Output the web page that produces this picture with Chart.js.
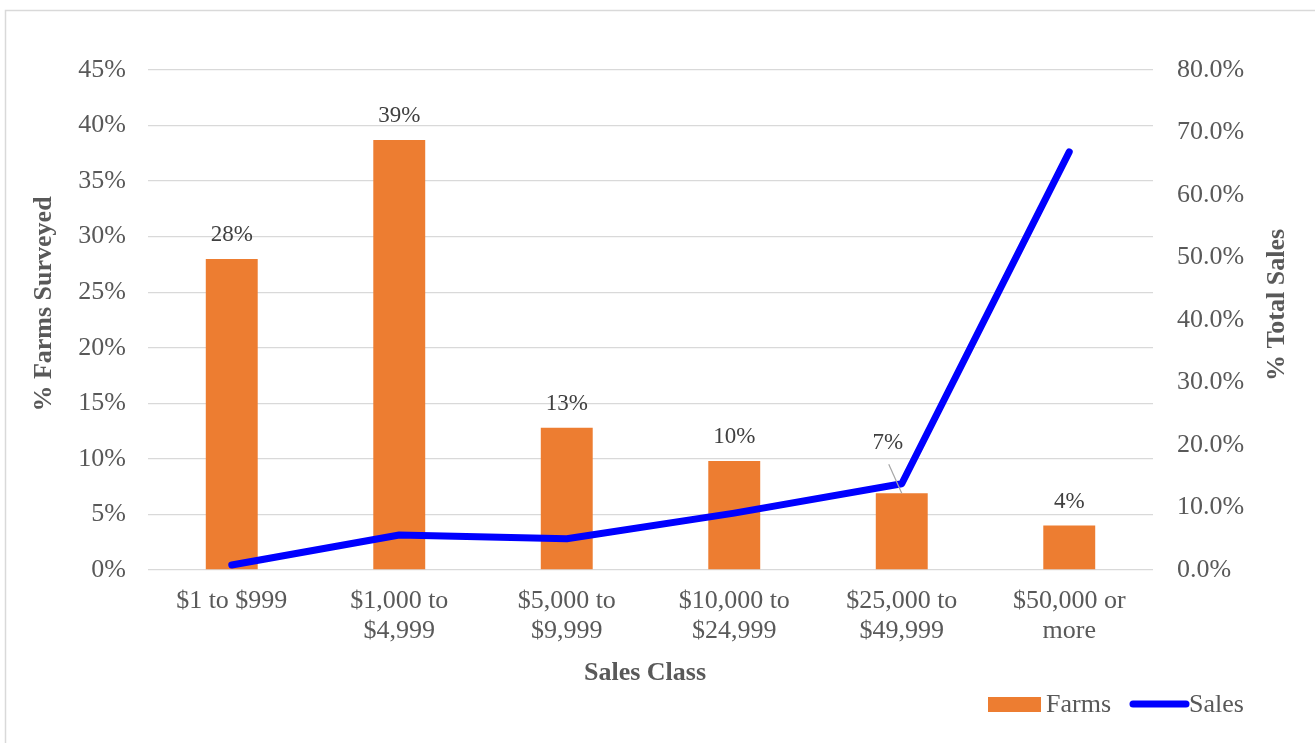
<!DOCTYPE html>
<html>
<head>
<meta charset="utf-8">
<script src="https://cdn.jsdelivr.net/npm/chart.js@4"></script>
<style>
html,body{margin:0;padding:0;background:#fff;}
#wrap{width:1315px;height:743px;position:relative;}
</style>
</head>
<body>
<div id="wrap"><canvas id="c" width="1315" height="743"></canvas></div>
<script>
const categories = [["$1 to $999"], ["$1,000 to", "$4,999"], ["$5,000 to", "$9,999"], ["$10,000 to", "$24,999"], ["$25,000 to", "$49,999"], ["$50,000 or", "more"]];
const farmsPct = [28.0, 38.7, 12.8, 9.8, 6.9, 4.0];
const salesPct = [0.8, 5.6, 5.0, 9.1, 13.8, 66.9];
const leftTicks = [0, 5, 10, 15, 20, 25, 30, 35, 40, 45];
const rightTicks = [0, 10, 20, 30, 40, 50, 60, 70, 80];
const titles = {x: "Sales Class", y: "% Farms Surveyed", y1: "% Total Sales"};

const FONT = "'Liberation Serif', 'Times New Roman', serif";
const TXT = '#595959';
const ORANGE = '#ED7D31';
const BLUE = '#0000FF';
const GRID = '#D9D9D9';

const decor = {
  id: 'decor',
  beforeDraw(chart) {
    const ctx = chart.ctx;
    ctx.save();
    ctx.fillStyle = '#fff';
    ctx.fillRect(0, 0, chart.width, chart.height);
    ctx.strokeStyle = GRID;
    ctx.lineWidth = 1.5;
    ctx.strokeRect(5.5, 10.5, 1330, 760);
    ctx.restore();
  },
  afterDatasetsDraw(chart, args, opts) {
    const ctx = chart.ctx;
    const meta = chart.getDatasetMeta(chart.data.datasets.findIndex(d => d.type === 'bar'));
    const ds = chart.data.datasets[meta.index];
    ctx.save();
    ctx.font = '23px ' + FONT;
    ctx.fillStyle = '#404040';
    ctx.textAlign = 'center';
    ctx.textBaseline = 'middle';
    meta.data.forEach((bar, i) => {
      const txt = Math.round(ds.data[i]) + '%';
      const off = (opts.labelOffsets || {})[i];
      if (off) {
        const lx = bar.x + off.dx, ly = bar.y + off.dy;
        ctx.strokeStyle = '#A6A6A6';
        ctx.lineWidth = 1.2;
        ctx.beginPath();
        ctx.moveTo(lx + 1, ly + 21);
        ctx.lineTo(bar.x, bar.y);
        ctx.stroke();
        ctx.fillText(txt, lx, ly);
      } else {
        ctx.fillText(txt, bar.x, bar.y - 24);
      }
    });
    ctx.restore();
  },
  afterDraw(chart) {
    const ctx = chart.ctx;
    ctx.save();
    ctx.fillStyle = TXT;
    ctx.font = 'bold 26px ' + FONT;
    ctx.textAlign = 'center';
    ctx.textBaseline = 'middle';
    ctx.fillText(titles.x, 645, 673);
    ctx.save();
    ctx.translate(44, 304);
    ctx.rotate(-Math.PI / 2);
    ctx.fillText(titles.y, 0, 0);
    ctx.restore();
    ctx.save();
    ctx.translate(1277, 305);
    ctx.rotate(-Math.PI / 2);
    ctx.fillText(titles.y1, 0, 0);
    ctx.restore();
    // legend
    const bar = chart.data.datasets.find(d => d.type === 'bar');
    const line = chart.data.datasets.find(d => d.type === 'line');
    const ly = 704;
    ctx.font = '26px ' + FONT;
    ctx.textAlign = 'left';
    ctx.fillStyle = ORANGE;
    ctx.fillRect(988, ly - 7, 53, 15);
    ctx.fillStyle = TXT;
    ctx.fillText(bar.label, 1046, ly + 1);
    ctx.strokeStyle = BLUE;
    ctx.lineWidth = 7;
    ctx.lineCap = 'round';
    ctx.beginPath();
    ctx.moveTo(1133, ly);
    ctx.lineTo(1186, ly);
    ctx.stroke();
    ctx.fillText(line.label, 1189, ly + 1);
    ctx.restore();
  }
};

new Chart(document.getElementById('c'), {
  data: {
    labels: categories,
    datasets: [
      {
        type: 'line',
        label: 'Sales',
        data: salesPct,
        yAxisID: 'y1',
        borderColor: BLUE,
        backgroundColor: BLUE,
        borderWidth: 7,
        borderCapStyle: 'round',
        borderJoinStyle: 'round',
        pointRadius: 0,
        tension: 0,
        order: 0
      },
      {
        type: 'bar',
        label: 'Farms',
        data: farmsPct,
        yAxisID: 'y',
        backgroundColor: ORANGE,
        barPercentage: 0.31,
        categoryPercentage: 1.0,
        order: 1
      }
    ]
  },
  options: {
    responsive: false,
    animation: false,
    layout: {padding: {left: 0, right: 0, top: 70, bottom: 43}},
    plugins: {
      legend: {display: false},
      tooltip: {enabled: false},
      decor: {labelOffsets: {4: {dx: -14, dy: -50}}}
    },
    scales: {
      x: {
        grid: {display: false, drawTicks: false},
        border: {display: false},
        ticks: {color: TXT, font: {family: FONT, size: 26, lineHeight: 1.15}, padding: 16, maxRotation: 0, autoSkip: false},
        afterFit(s) { s.height = 130; }
      },
      y: {
        position: 'left',
        min: 0, max: 45,
        afterBuildTicks(s) { s.ticks = leftTicks.map(v => ({value: v})); },
        grid: {color: GRID, lineWidth: 1.3, drawTicks: false},
        border: {display: false},
        ticks: {color: TXT, font: {family: FONT, size: 26}, padding: 22, callback: v => v + '%'},
        afterFit(s) { s.width = 148; }
      },
      y1: {
        position: 'right',
        min: 0, max: 80,
        afterBuildTicks(s) { s.ticks = rightTicks.map(v => ({value: v})); },
        grid: {display: false, drawTicks: false},
        border: {display: false},
        ticks: {color: TXT, font: {family: FONT, size: 26}, padding: 24, callback: v => Number(v).toFixed(1) + '%'},
        afterFit(s) { s.width = 162; }
      }
    }
  },
  plugins: [decor]
});
</script>
</body>
</html>
